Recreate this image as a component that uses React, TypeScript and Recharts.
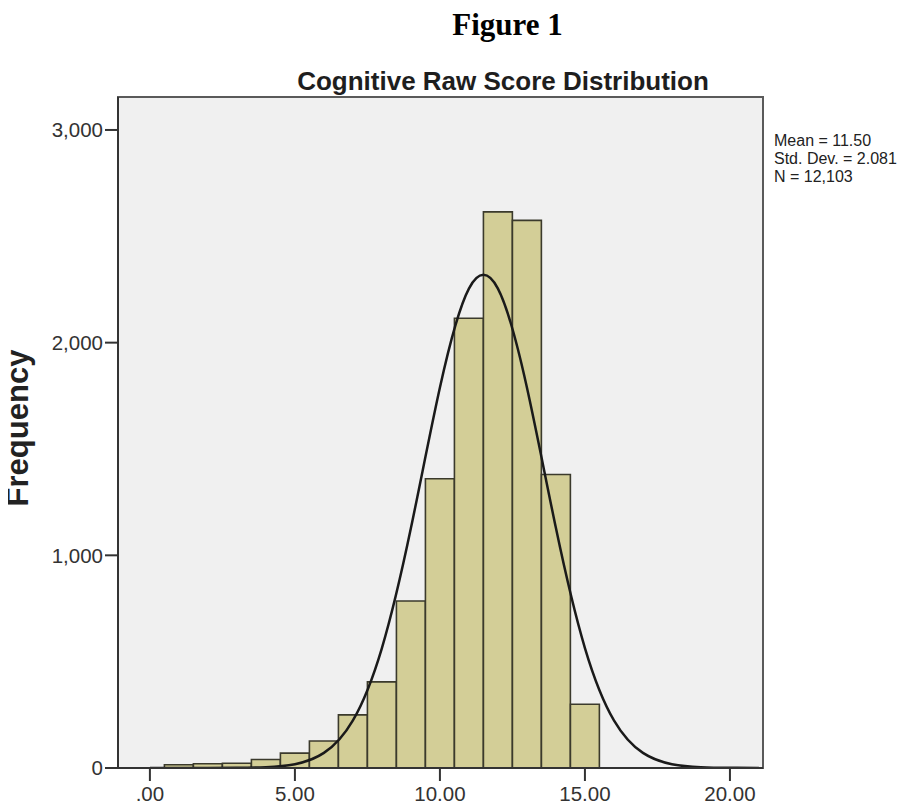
import {
  ComposedChart,
  Bar,
  Line,
  XAxis,
  YAxis,
  CartesianGrid,
  ReferenceArea,
} from 'recharts';

// histogram bins (centre of each 1-point bin) and counts
const scoreBins = [1, 2, 3, 4, 5, 6, 7, 8, 9, 10, 11, 12, 13, 14, 15];
const binCounts = [15, 20, 22, 40, 70, 127, 250, 405, 785, 1360, 2115, 2615, 2575, 1380, 300];

// fitted normal curve
const curveX = [0, 1, 2, 3, 4, 5, 6, 7, 8, 9, 10, 11, 12, 13, 14, 15, 16, 17, 18, 19, 20, 21];
const curveY = [0, 0, 0, 1, 4, 18, 71, 224, 564, 1128, 1789, 2254, 2254, 1789, 1128, 564, 224, 71, 18, 4, 1, 0];

const xTicks = [0, 5, 10, 15, 20];
const xTickLabels = ['.00', '5.00', '10.00', '15.00', '20.00'];
const yTicks = [0, 1000, 2000, 3000];
const yTickLabels = ['0', '1,000', '2,000', '3,000'];

const statLines = ['Mean = 11.50', 'Std. Dev. = 2.081', 'N = 12,103'];

const X_MIN = -1.1;
const X_MAX = 21.14;
const Y_MAX = 3155;

const W = 904;
const H = 800;
const M = { top: 89, right: 149, bottom: 0, left: 0 };
const Y_AXIS_W = 110;
const plotW = W - M.left - M.right - Y_AXIS_W;
const barPx = plotW / (X_MAX - X_MIN) - 0.05;

const rows = curveX.map((x, i) => {
  const b = scoreBins.indexOf(x);
  return { x, fit: curveY[i], count: b >= 0 ? binCounts[b] : null };
});

const sans = '"Liberation Sans", Arial, sans-serif';
const tickStyle = { fill: '#333', fontSize: 20.5, fontFamily: sans };

export default function App() {
  return (
    <div style={{ position: 'relative', width: W, height: H, background: '#fff' }}>
      <div
        style={{
          position: 'absolute',
          left: 299.5,
          width: 400,
          top: 1,
          textAlign: 'center',
          fontFamily: '"Liberation Serif", "Times New Roman", serif',
          fontWeight: 'bold',
          fontSize: 31,
          lineHeight: '31px',
          color: '#000',
        }}
      >
        Figure 1
      </div>
      <div
        style={{
          position: 'absolute',
          left: 195,
          width: 600,
          top: 60,
          textAlign: 'center',
          fontFamily: sans,
          fontWeight: 'bold',
          fontSize: 26,
          lineHeight: '26px',
          color: '#1e1e1e',
        }}
      >
        Cognitive Raw Score Distribution
      </div>
      <div
        style={{
          position: 'absolute',
          left: 766,
          top: 123.5,
          fontFamily: sans,
          fontSize: 16,
          lineHeight: '18px',
          color: '#222',
          whiteSpace: 'nowrap',
        }}
      >
        {statLines.map((s) => (
          <div key={s}>{s}</div>
        ))}
      </div>
      <div
        style={{
          position: 'absolute',
          left: -140,
          top: 405,
          width: 300,
          height: 30,
          lineHeight: '30px',
          textAlign: 'center',
          transform: 'rotate(-90deg)',
          fontFamily: sans,
          fontWeight: 'bold',
          fontSize: 31,
          color: '#222',
        }}
      >
        Frequency
      </div>
      <ComposedChart width={W} height={H} data={rows} margin={M}>
        <CartesianGrid fill="#f0f0f0" stroke="none" horizontal={false} vertical={false} />
        <XAxis
          dataKey="x"
          type="number"
          domain={[X_MIN, X_MAX]}
          allowDataOverflow
          ticks={xTicks}
          tickFormatter={(v: number) => xTickLabels[xTicks.indexOf(v)]}
          tick={tickStyle}
          tickSize={13}
          tickMargin={5}
          height={40}
          axisLine={{ stroke: '#333', strokeWidth: 2 }}
          tickLine={{ stroke: '#333', strokeWidth: 2 }}
        />
        <YAxis
          type="number"
          domain={[0, Y_MAX]}
          allowDataOverflow
          ticks={yTicks}
          tickFormatter={(v: number) => yTickLabels[yTicks.indexOf(v)]}
          tick={tickStyle}
          tickSize={13}
          tickMargin={2}
          width={Y_AXIS_W}
          axisLine={{ stroke: '#333', strokeWidth: 2 }}
          tickLine={{ stroke: '#333', strokeWidth: 2 }}
        />
        <ReferenceArea
          x1={X_MIN}
          x2={X_MAX}
          y1={0}
          y2={Y_MAX}
          fill="none"
          stroke="#5a5a5a"
          strokeWidth={2}
          fillOpacity={0}
        />
        <Bar
          dataKey="count"
          barSize={barPx}
          fill="#d3ce97"
          stroke="#3b3a2c"
          strokeWidth={1.6}
          isAnimationActive={false}
        />
        <Line
          dataKey="fit"
          type="natural"
          stroke="#1a1a1a"
          strokeWidth={2.5}
          dot={false}
          activeDot={false}
          isAnimationActive={false}
        />
      </ComposedChart>
    </div>
  );
}
